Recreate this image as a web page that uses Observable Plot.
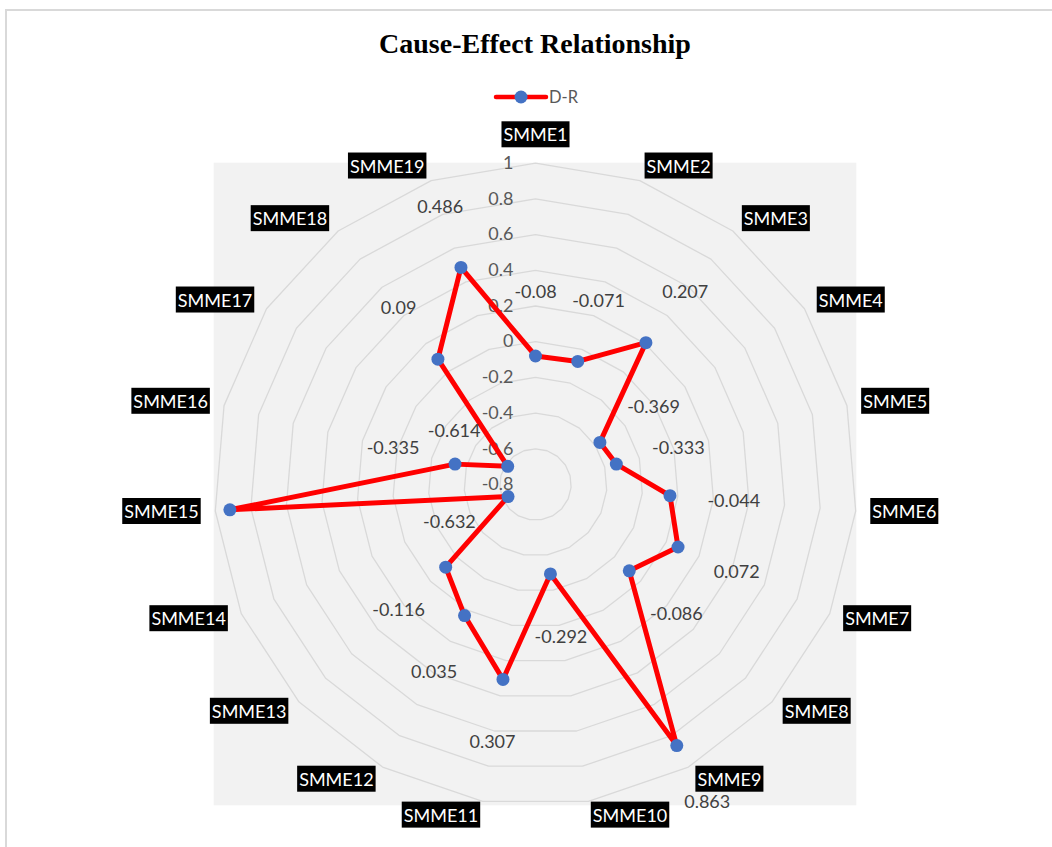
<!DOCTYPE html>
<html>
<head>
<meta charset="utf-8">
<script src="https://cdn.jsdelivr.net/npm/d3@7"></script>
<script src="https://cdn.jsdelivr.net/npm/@observablehq/plot@0.6"></script>
<style>
  body { margin: 0; background: #fff; width: 1052px; height: 847px; overflow: hidden; position: relative; font-family: Lato, sans-serif; }
  #frame { position: absolute; left: 5px; top: 9px; width: 1200px; height: 1000px; border-top: 2px solid #d9d9d9; border-left: 2px solid #d9d9d9; pointer-events: none; z-index: 2; }
  #title { position: relative; width: 1070px; height: 72px; box-sizing: border-box; padding-top: 30px; text-align: center; font: bold 28px/28px "Liberation Serif", "Times New Roman", serif; color: #000; }
  #legend { position: relative; width: 1052px; height: 40px; }
  #legend svg { position: absolute; left: 493px; top: 17px; }
  #legend span { position: absolute; left: 549px; top: 16px; font: 16.5px/18px Lato, sans-serif; color: #595959; }
  #chart { position: relative; width: 1052px; }
</style>
</head>
<body>
<div id="frame"></div>
<div id="title">Cause-Effect Relationship</div>
<div id="legend">
  <svg width="56" height="16" viewBox="0 0 56 16">
    <line x1="3" x2="53" y1="8" y2="8" stroke="#ff0000" stroke-width="4.5" stroke-linecap="round"></line>
    <circle cx="28" cy="8" r="6.5" fill="#4472c4"></circle>
  </svg>
  <span>D-R</span>
</div>
<div id="chart"></div>
<script>
const categories = ["SMME1","SMME2","SMME3","SMME4","SMME5","SMME6","SMME7","SMME8","SMME9","SMME10",
  "SMME11","SMME12","SMME13","SMME14","SMME15","SMME16","SMME17","SMME18","SMME19"];
const values = [-0.08, -0.071, 0.207, -0.369, -0.333, -0.044, 0.072, -0.086, 0.863, -0.292,
  0.307, 0.035, -0.116, -0.632, 0.918, -0.335, -0.614, 0.09, 0.486];
const valueLabels = ["-0.08","-0.071","0.207","-0.369","-0.333","-0.044","0.072","-0.086","0.863","-0.292",
  "0.307","0.035","-0.116","-0.632",null,"-0.335","-0.614","0.09","0.486"];
const ticks = [-0.8, -0.6, -0.4, -0.2, 0, 0.2, 0.4, 0.6, 0.8, 1];
const tickLabels = ["-0.8","-0.6","-0.4","-0.2","0","0.2","0.4","0.6","0.8","1"];

const rMin = ticks[0], rMax = ticks[ticks.length - 1];
const R = rMax - rMin;
const n = categories.length;
const ang = i => 2 * Math.PI * (i % n) / n;
const rad = v => v - rMin;
const px = (i, r) => r * Math.sin(ang(i));
const py = (i, r) => r * Math.cos(ang(i));

const rows = categories.map((c, i) => ({ cat: c, i, value: values[i], label: valueLabels[i] }));
const closed = [...rows, rows[0]];

const rings = ticks.filter(t => t > rMin).flatMap(t =>
  d3.range(n + 1).map(i => ({ t, x: px(i, rad(t)), y: py(i, rad(t)) })));

const labelOffset = 0.3585;      // radial offset of value labels
const catR = R + 0.082;          // radial position of category labels
const catTopR = R + 0.155;

const isTop = d => Math.abs(Math.sin(ang(d.i))) < 0.01;
const catRight = rows.filter(d => !isTop(d) && Math.sin(ang(d.i)) > 0);
const catLeft = rows.filter(d => !isTop(d) && Math.sin(ang(d.i)) < 0);
const catTop = rows.filter(isTop);

const catStyle = { fill: "white", fontSize: 18, text: "cat" };

const plot = Plot.plot({
  width: 1052,
  height: 735,
  x: { domain: [-R, R], range: [213.7, 856.3], axis: null },
  y: { domain: [-R, R], range: [693.3, 50.7], axis: null },
  style: { fontFamily: "Lato, sans-serif", fontSize: "18px", background: "transparent", overflow: "visible" },
  marks: [
    Plot.rect([{ x1: -R, x2: R, y1: -R, y2: R }], { x1: "x1", x2: "x2", y1: "y1", y2: "y2", fill: "#f2f2f2" }),
    Plot.line(rings, { x: "x", y: "y", z: "t", stroke: "#d9d9d9", strokeWidth: 1.3 }),
    Plot.text(ticks, { x: () => 0, y: t => rad(t), text: (t, i) => tickLabels[i], textAnchor: "end", dx: -22, fill: "#595959", fontSize: 18 }),
    Plot.line(closed, { x: d => px(d.i, rad(d.value)), y: d => py(d.i, rad(d.value)), stroke: "#ff0000", strokeWidth: 5, strokeLinejoin: "round" }),
    Plot.dot(rows, { x: d => px(d.i, rad(d.value)), y: d => py(d.i, rad(d.value)), r: 6.5, fill: "#4472c4" }),
    Plot.text(rows.filter(d => d.label), { x: d => px(d.i, rad(d.value) + labelOffset), y: d => py(d.i, rad(d.value) + labelOffset), text: "label", fill: "#404040", fontSize: 18 }),
    Plot.text(catRight, { ...catStyle, x: d => px(d.i, catR), y: d => py(d.i, catR), textAnchor: "start", dx: 2 }),
    Plot.text(catLeft, { ...catStyle, x: d => px(d.i, catR), y: d => py(d.i, catR), textAnchor: "end", dx: -2 }),
    Plot.text(catTop, { ...catStyle, x: d => px(d.i, catTopR), y: d => py(d.i, catTopR), textAnchor: "middle" })
  ]
});

document.getElementById("chart").appendChild(plot);

// black label boxes behind the category names
const catSet = new Set(categories);
plot.querySelectorAll("text").forEach(t => {
  if (!catSet.has(t.textContent)) return;
  const b = t.getBBox();
  const cy = b.y + b.height / 2;
  const rect = document.createElementNS("http://www.w3.org/2000/svg", "rect");
  rect.setAttribute("x", b.x - 2);
  rect.setAttribute("y", cy - 13);
  rect.setAttribute("width", b.width + 4);
  rect.setAttribute("height", 26);
  rect.setAttribute("fill", "black");
  const tr = t.getAttribute("transform");
  if (tr) rect.setAttribute("transform", tr);
  t.parentNode.insertBefore(rect, t);
});
</script>
</body>
</html>
